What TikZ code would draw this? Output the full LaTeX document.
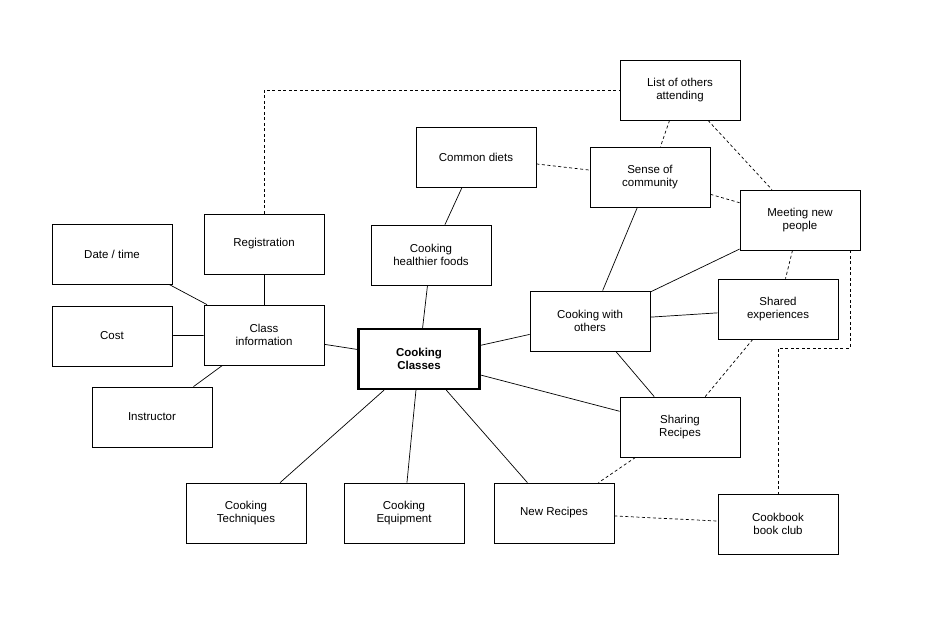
\documentclass[tikz,border=0pt]{standalone}
\usepackage{fontspec}
\setmainfont{Liberation Sans}
\begin{document}
\begin{tikzpicture}[x=1pt,y=-1pt,
 box/.style={draw,minimum width=120pt,minimum height=60pt,align=center,font=\fontsize{11.5}{13.5}\selectfont,line width=0.8pt},
 main/.style={box,line width=2.2pt,font=\bfseries\fontsize{11.5}{13.5}\selectfont},
 e/.style={line width=0.7pt},
 d/.style={line width=0.7pt,dash pattern=on 3pt off 2.5pt}]
\useasboundingbox (0,0) rectangle (931,626);
\node[box] (list) at (680,90) {List of others\\attending};
\node[box] (diets) at (476,157) {Common diets};
\node[box] (sense) at (650,177) {Sense of\\community};
\node[box] (meet) at (800,220) {Meeting new\\people};
\node[box] (reg) at (264,244) {Registration};
\node[box] (date) at (112,254) {Date / time};
\node[box] (health) at (431,255) {Cooking\\healthier foods};
\node[box] (cost) at (112,336) {Cost};
\node[box] (info) at (264,335) {Class\\information};
\node[box] (with) at (590,321) {Cooking with\\others};
\node[box] (shared) at (778,309) {Shared\\experiences};
\node[main,minimum width=121pt] (cc) at (419,359) {Cooking\\Classes};
\node[box] (instr) at (152,417) {Instructor};
\node[box] (sharing) at (680,427) {Sharing\\Recipes};
\node[box] (tech) at (246,513) {Cooking\\Techniques};
\node[box] (equip) at (404,513) {Cooking\\Equipment};
\node[box] (newr) at (554,513) {New Recipes};
\node[box] (book) at (778,524) {Cookbook\\book club};
\foreach \a/\b in {cc/info,cc/health,cc/with,cc/sharing,cc/tech,cc/equip,cc/newr,info/reg,info/date,info/cost,info/instr,health/diets,with/sense,with/meet,with/shared,with/sharing}
  \draw[e] (\a) -- (\b);
\foreach \a/\b in {diets/sense,list/sense,list/meet,sense/meet,meet/shared,shared/sharing,sharing/newr,newr/book}
  \draw[d] (\a) -- (\b);
\coordinate (c1) at (264,90);
\draw[d] (reg.north) -- (c1) -- (list.west);
\coordinate (c2) at (850,348);
\coordinate (c3) at (778,348);
\draw[d] (meet.south -| c2) -- (c2) -- (c3) -- (book.north);
\end{tikzpicture}
\end{document}
